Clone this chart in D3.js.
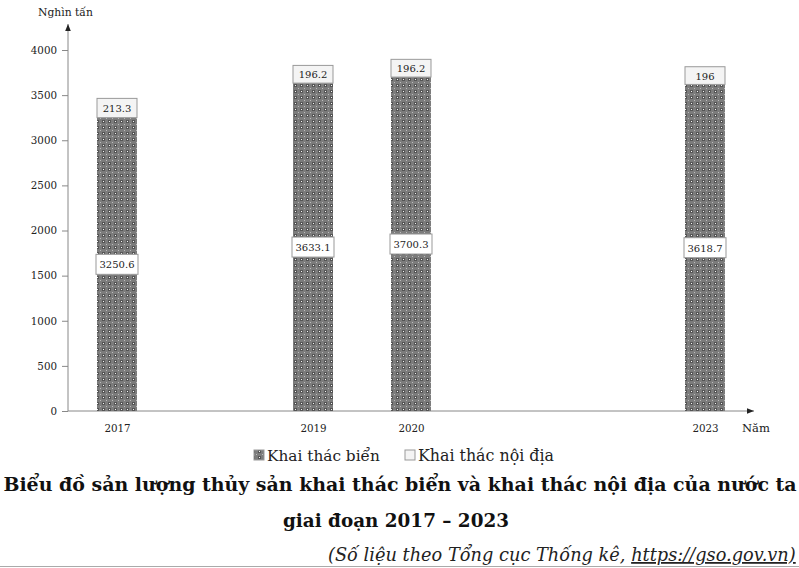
<!DOCTYPE html>
<html><head><meta charset="utf-8">
<script src="https://cdn.jsdelivr.net/npm/d3@7"></script>
<style>body{margin:0;background:#fff}svg{display:block}</style>
</head><body><svg id="c" width="799" height="568"></svg>
<script>
const years = [2017, 2019, 2020, 2023];
const bien = [3250.6, 3633.1, 3700.3, 3618.7];
const noiDia = [213.3, 196.2, 196.2, 196];
const yTicks = [0, 500, 1000, 1500, 2000, 2500, 3000, 3500, 4000];
const legendLabels = ["Khai thác biển", "Khai thác nội địa"];

const svg = d3.select("#c");
const font = "'DejaVu Serif', serif";
const x = d3.scaleLinear().domain([2017, 2023]).range([117, 705]);
const y = d3.scaleLinear().domain([0, 4000]).range([411, 50]);
const bw = 40;

function fit(sel, w, base) {
  sel.attr("font-size", base);
  const l = sel.node().getComputedTextLength();
  sel.attr("font-size", base * w / l);
}

const defs = svg.append("defs");
const pat = defs.append("pattern").attr("id","hatch").attr("patternUnits","userSpaceOnUse")
  .attr("width",6).attr("height",6);
pat.append("rect").attr("width",6).attr("height",6).attr("fill","#7c7c7c");
pat.append("rect").attr("x",0).attr("y",0).attr("width",3).attr("height",3).attr("fill","#555");
pat.append("rect").attr("x",1).attr("y",1).attr("width",1).attr("height",1).attr("fill","#f4f4f4");
pat.append("rect").attr("x",4).attr("y",4).attr("width",1).attr("height",1).attr("fill","#bdbdbd");
defs.append("marker").attr("id","arr").attr("viewBox","0 0 10 10").attr("refX",10).attr("refY",5)
  .attr("markerWidth",7).attr("markerHeight",7).attr("orient","auto-start-reverse")
  .append("path").attr("d","M0,1L10,5L0,9Z").attr("fill","#222");

// axes
svg.append("line").attr("x1",68).attr("x2",68).attr("y1",411).attr("y2",24)
  .attr("stroke","#888").attr("marker-end","url(#arr)");
svg.append("line").attr("x1",68).attr("x2",754).attr("y1",411).attr("y2",411)
  .attr("stroke","#888").attr("marker-end","url(#arr)");
const ya = svg.append("g").attr("transform","translate(68,0)")
  .call(d3.axisLeft(y).tickValues(yTicks).tickSize(6).tickPadding(5).tickFormat(d3.format("d")));
ya.select(".domain").remove();
ya.selectAll("line").attr("stroke","#888");
ya.selectAll("text").attr("font-family",font).attr("font-size",10.3).attr("fill","#222");

const xa = svg.append("g").attr("transform","translate(0,411)")
  .call(d3.axisBottom(x).tickValues(years).tickSize(0).tickPadding(14).tickFormat(d3.format("d")));
xa.select(".domain").remove();
xa.selectAll("text").attr("font-family",font).attr("font-size",10.3).attr("fill","#222");

const yl = svg.append("text").attr("x",38).attr("y",16).text("Nghìn tấn").attr("font-family",font).attr("fill","#222");
fit(yl, 55, 11);
const xl = svg.append("text").attr("x",742).attr("y",432).text("Năm").attr("font-family",font).attr("fill","#222");
fit(xl, 28, 11);

// bars
const data = years.map((yr,i)=>({yr, b:bien[i], n:noiDia[i]}));
const bars = svg.append("g").selectAll("g").data(data).join("g");
bars.append("rect").attr("x",d=>x(d.yr)-bw/2).attr("width",bw)
  .attr("y",d=>y(d.b)).attr("height",d=>y(0)-y(d.b)).attr("fill","url(#hatch)");
bars.append("rect").attr("x",d=>x(d.yr)-bw/2).attr("width",bw)
  .attr("y",d=>y(d.b+d.n)).attr("height",d=>y(d.b)-y(d.b+d.n))
  .attr("fill","#f4f4f4").attr("stroke","#999").attr("stroke-width",1);
bars.append("rect").attr("x",d=>x(d.yr)-bw/2-1).attr("width",bw+2)
  .attr("y",d=>y(d.b/2)-10).attr("height",20).attr("fill","#fff").attr("stroke","#999");
bars.append("text").attr("x",d=>x(d.yr)).attr("y",d=>y(d.b/2)+4).attr("text-anchor","middle")
  .text(d=>d.b).attr("font-family",font).attr("font-size",10).attr("fill","#222");
bars.append("text").attr("x",d=>x(d.yr)).attr("y",d=>y(d.b+d.n/2)+4).attr("text-anchor","middle")
  .text(d=>d.n).attr("font-family",font).attr("font-size",10).attr("fill","#222");

// legend
const lx = [254, 405];
legendLabels.forEach((t,i)=>{
  svg.append("rect").attr("x",lx[i]).attr("y",450).attr("width",10).attr("height",10)
    .attr("fill", i===0 ? "url(#hatch)" : "#f4f4f4").attr("stroke","#999");
  const tt = svg.append("text").attr("x",lx[i]+13).attr("y",461).text(t).attr("font-family",font).attr("fill","#222");
  fit(tt, i===0 ? 113 : 136, 14);
});

// title
const t1 = svg.append("text").attr("x",400).attr("y",491).attr("text-anchor","middle").attr("font-family",font)
  .attr("font-weight","bold").attr("fill","#111")
  .text("Biểu đồ sản lượng thủy sản khai thác biển và khai thác nội địa của nước ta");
fit(t1, 794, 18);
const t2 = svg.append("text").attr("x",396).attr("y",527).attr("text-anchor","middle").attr("font-family",font)
  .attr("font-weight","bold").attr("fill","#111")
  .text("giai đoạn 2017 – 2023");
fit(t2, 226, 18);
const ft = svg.append("text").attr("x",328).attr("y",561).attr("font-family",font)
  .attr("font-style","italic").attr("fill","#222");
ft.append("tspan").text("(Số liệu theo Tổng cục Thống kê, ");
ft.append("tspan").attr("text-decoration","underline").text("https://gso.gov.vn)");
fit(ft, 468, 17);
svg.append("line").attr("x1",0).attr("x2",799).attr("y1",566.5).attr("y2",566.5).attr("stroke","#aaa");
</script></body></html>
